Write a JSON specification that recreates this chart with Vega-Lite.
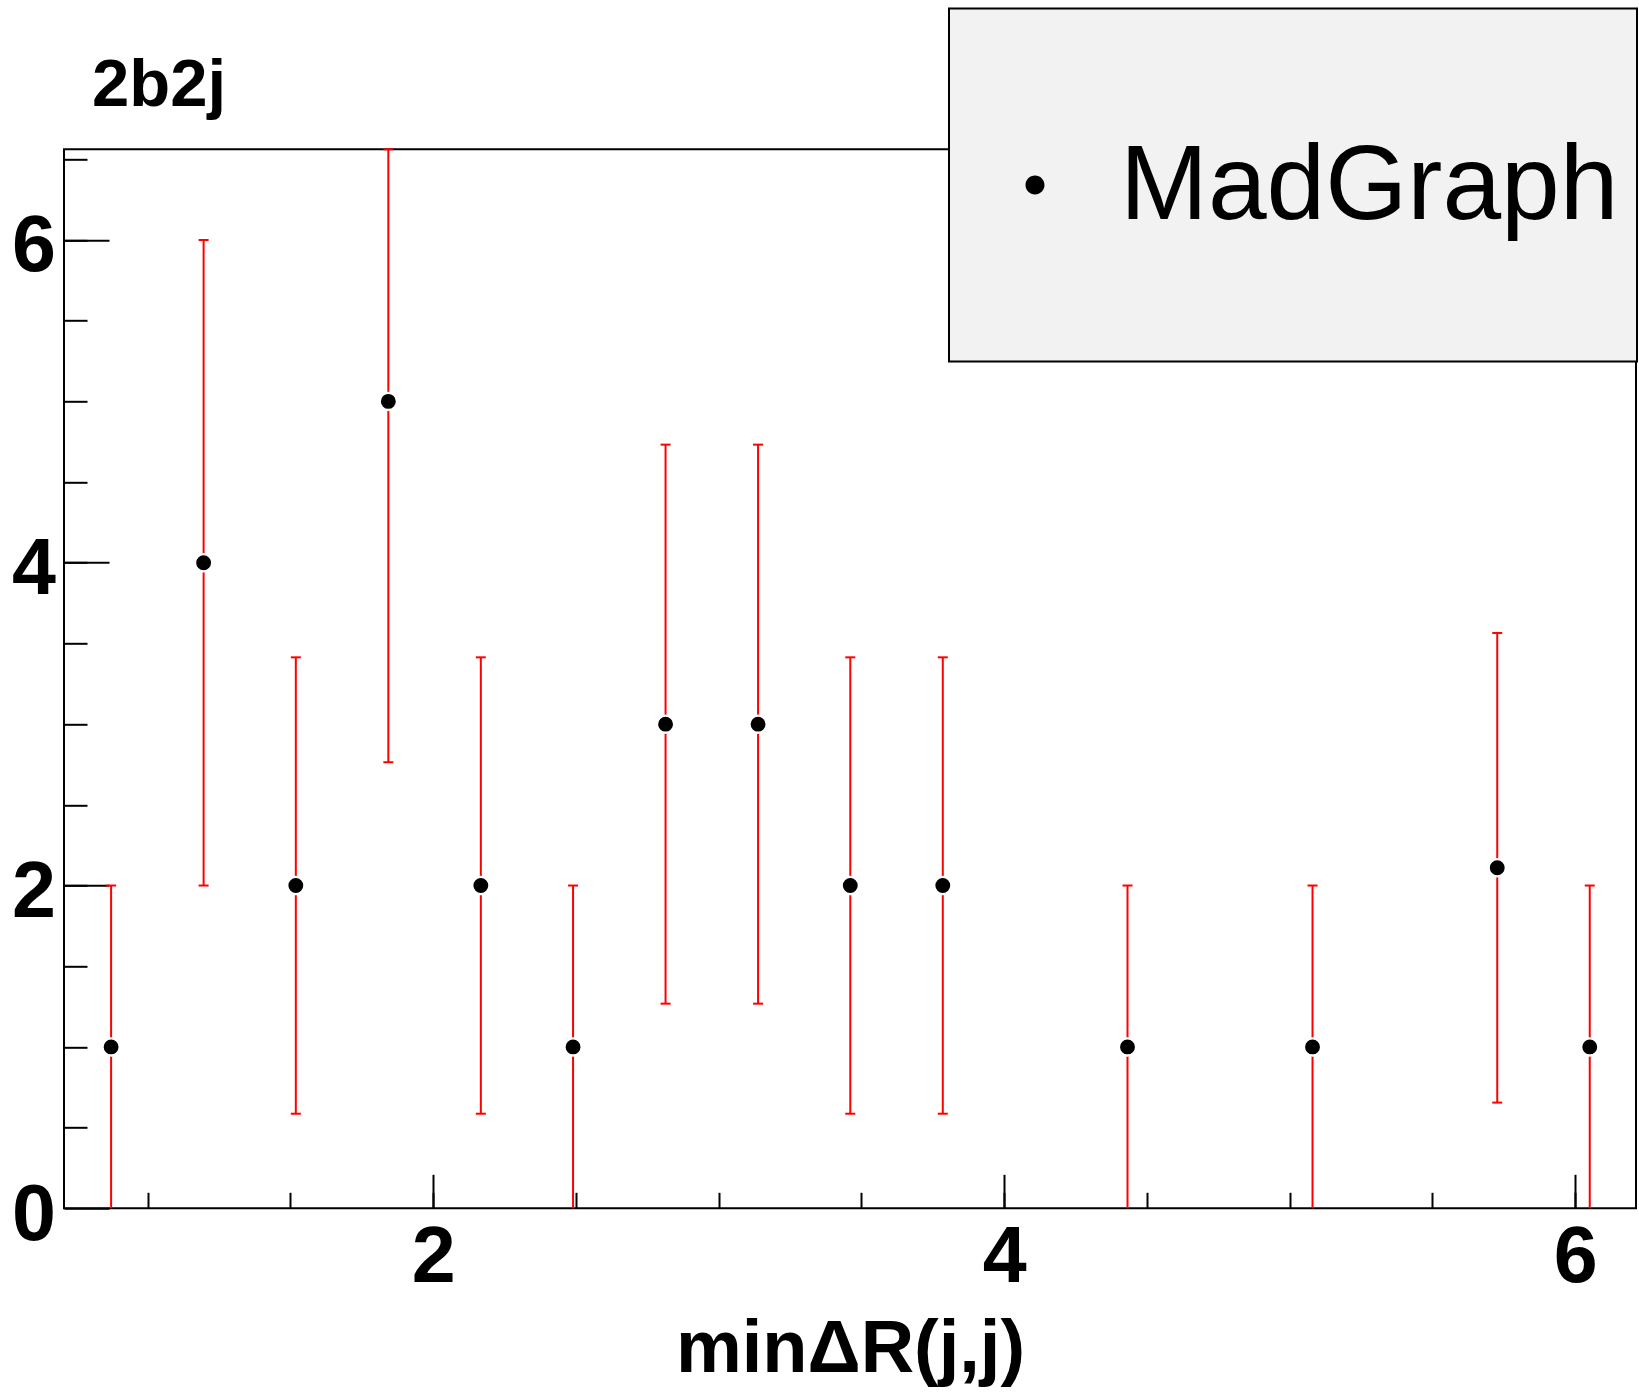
{
  "$schema": "https://vega.github.io/schema/vega-lite/v6.json",
  "width": 1572,
  "height": 1059,
  "autosize": {"type": "none"},
  "padding": {"left": 64, "top": 149.3, "right": 3, "bottom": 186.7},
  "background": "white",
  "config": {
    "view": {"stroke": "black", "strokeWidth": 2},
    "axis": {"grid": false, "domain": false, "tickColor": "black", "tickWidth": 2, "labelColor": "black", "titleColor": "black", "labelFont": "Liberation Sans", "titleFont": "Liberation Sans", "labelFontWeight": "bold", "titleFontWeight": "bold"},
    "title": {"font": "Liberation Sans", "fontSize": 67, "fontWeight": "bold", "color": "black", "anchor": "start", "frame": "group", "baseline": "alphabetic", "dx": 28, "offset": -112.5}
  },
  "title": "2b2j",
  "data": {"values": [
    {"x": 0.872, "y": 1, "lo": 0, "hi": 2, "series": "MadGraph"},
    {"x": 1.196, "y": 4, "lo": 2, "hi": 6, "series": "MadGraph"},
    {"x": 1.519, "y": 2, "lo": 0.586, "hi": 3.414, "series": "MadGraph"},
    {"x": 1.843, "y": 5, "lo": 2.764, "hi": 7.236, "series": "MadGraph"},
    {"x": 2.167, "y": 2, "lo": 0.586, "hi": 3.414, "series": "MadGraph"},
    {"x": 2.490, "y": 1, "lo": 0, "hi": 2, "series": "MadGraph"},
    {"x": 2.814, "y": 3, "lo": 1.268, "hi": 4.732, "series": "MadGraph"},
    {"x": 3.138, "y": 3, "lo": 1.268, "hi": 4.732, "series": "MadGraph"},
    {"x": 3.461, "y": 2, "lo": 0.586, "hi": 3.414, "series": "MadGraph"},
    {"x": 3.785, "y": 2, "lo": 0.586, "hi": 3.414, "series": "MadGraph"},
    {"x": 4.432, "y": 1, "lo": 0, "hi": 2, "series": "MadGraph"},
    {"x": 5.080, "y": 1, "lo": 0, "hi": 2, "series": "MadGraph"},
    {"x": 5.727, "y": 2.11, "lo": 0.655, "hi": 3.565, "series": "MadGraph"},
    {"x": 6.051, "y": 1, "lo": 0, "hi": 2, "series": "MadGraph"}
  ]},
  "resolve": {"axis": {"x": "independent", "y": "independent"}},
  "layer": [
    {
      "mark": {"type": "rule", "color": "red", "strokeWidth": 2},
      "encoding": {
        "x": {"field": "x", "type": "quantitative", "scale": {"domain": [0.707, 6.213], "nice": false, "zero": false},
              "axis": {"orient": "bottom", "values": [2, 4, 6], "tickSize": -34, "labelFontSize": 79, "labelBaseline": "alphabetic", "labelPadding": 107.3, "labelFlush": false, "title": "minΔR(j,j)", "titleFontSize": 74, "titleBaseline": "alphabetic", "titleAlign": "center", "titleAngle": 0, "titleX": 786, "titleY": 163.3}},
        "y": {"field": "lo", "type": "quantitative", "scale": {"domain": [0, 6.562], "nice": false, "clamp": true},
              "axis": {"orient": "left", "values": [0, 2, 4, 6], "tickSize": -45, "labelFontSize": 79, "labelBaseline": "alphabetic", "labelOffset": 31, "labelPadding": 53.6, "labelFlush": false, "title": null}},
        "y2": {"field": "hi"}
      }
    },
    {
      "mark": {"type": "tick", "orient": "horizontal", "color": "red", "size": 10, "thickness": 2, "opacity": 1},
      "encoding": {
        "x": {"field": "x", "type": "quantitative",
              "axis": {"orient": "bottom", "values": [1, 1.5, 2, 2.5, 3, 3.5, 4, 4.5, 5, 5.5, 6], "tickSize": -16, "labels": false, "title": null}},
        "y": {"field": "hi", "type": "quantitative",
              "axis": {"orient": "left", "values": [0.5, 1, 1.5, 2, 2.5, 3, 3.5, 4, 4.5, 5, 5.5, 6, 6.5], "tickSize": -23, "labels": false, "title": null}}
      }
    },
    {
      "transform": [{"filter": "datum.lo > 0"}],
      "mark": {"type": "tick", "orient": "horizontal", "color": "red", "size": 10, "thickness": 2, "opacity": 1},
      "encoding": {
        "x": {"field": "x", "type": "quantitative", "axis": null},
        "y": {"field": "lo", "type": "quantitative", "axis": null}
      }
    },
    {
      "mark": {"type": "point", "filled": true, "size": 295, "stroke": "white", "strokeWidth": 2.3, "opacity": 1},
      "encoding": {
        "x": {"field": "x", "type": "quantitative", "axis": null},
        "y": {"field": "y", "type": "quantitative", "axis": null},
        "color": {"field": "series", "type": "nominal", "scale": {"domain": ["MadGraph"], "range": ["black"]},
          "legend": {
            "orient": "none", "legendX": 885, "legendY": -140.9, "title": null,
            "padding": 18, "fillColor": "#f2f2f2", "strokeColor": "black",
            "symbolType": "M-1,-1L-1,-1M1,1L1,1M-0.6324,0A0.06,0.06,0,1,0,-0.5124,0A0.06,0.06,0,1,0,-0.6324,0Z",
            "symbolSize": 99982, "symbolStrokeWidth": 0, "symbolOpacity": 1, "symbolFillColor": "black", "symbolOffset": 0,
            "labelFont": "Liberation Sans", "labelFontSize": 105.5, "labelFontWeight": "normal", "labelColor": "black",
            "labelOffset": -164, "labelBaseline": "alphabetic", "labelLimit": 0,
            "encoding": {"labels": {"dy": {"value": 34}}, "legend": {"strokeWidth": {"value": 2}}}
          }}
      }
    }
  ]
}
